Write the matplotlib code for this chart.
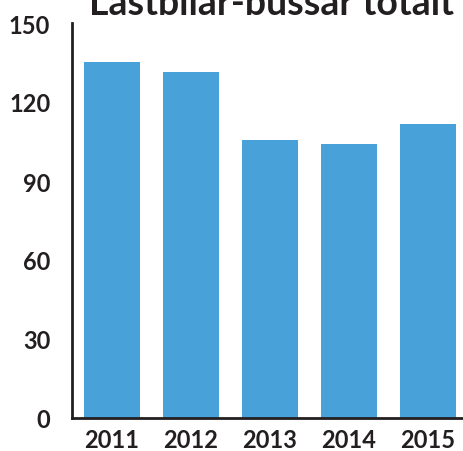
import matplotlib
matplotlib.use("Agg")
import matplotlib.pyplot as plt

# data
years = ["2011", "2012", "2013", "2014", "2015"]
values = [135.2, 131.4, 105.6, 104.0, 111.6]
yticks = [0, 30, 60, 90, 120, 150]

TEXT = "#231f20"
BAR = "#48a1d9"

plt.rcParams["font.family"] = ["Lato", "DejaVu Sans"]
plt.rcParams["font.weight"] = "bold"

fig = plt.figure(figsize=(4.64, 4.52), dpi=100)
W, H = 464, 452
# axes: left at 72.5 px, bottom at 419 px, top at 24 px, 79 px per category
left, bottom, top = 72.5, 419, 24
ax = fig.add_axes([left / W, (H - bottom) / H, 5 * 79 / W, (bottom - top) / H])

x = range(len(years))
ax.bar(x, values, width=0.72, color=BAR, zorder=2)

ax.set_xlim(-0.5, 4.5)
ax.set_ylim(0, 150)
ax.set_xticks(list(x))
ax.set_xticklabels(years)
ax.set_yticks(yticks)

for s in ["top", "right"]:
    ax.spines[s].set_visible(False)
for s in ["left", "bottom"]:
    ax.spines[s].set_color(TEXT)
    ax.spines[s].set_linewidth(2)

ax.tick_params(axis="both", length=0, labelsize=17, colors=TEXT)
ax.tick_params(axis="y", pad=16)
ax.tick_params(axis="x", pad=7)
for lab in ax.get_xticklabels() + ax.get_yticklabels():
    lab.set_fontweight("bold")

fig.text(272 / W, 1 - 15 / H, "Lastbilar-bussar totalt", ha="center", va="baseline",
         fontsize=27, fontweight="bold", color=TEXT)

fig.savefig("out.png", dpi=100)
